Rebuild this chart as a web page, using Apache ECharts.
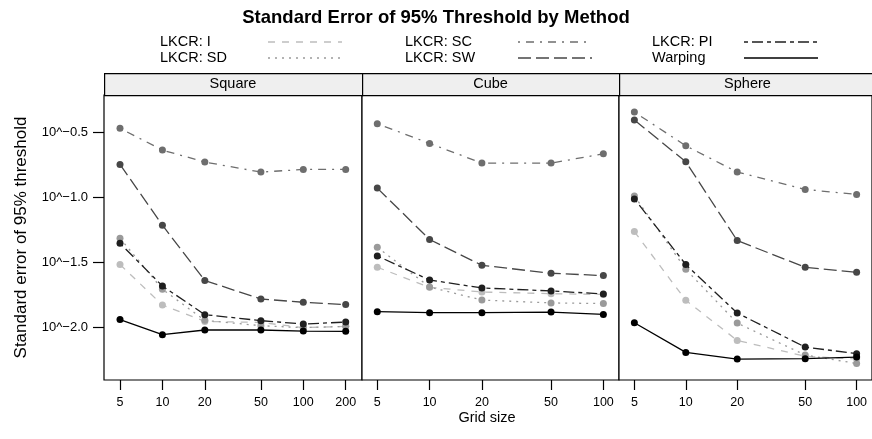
<!DOCTYPE html>
<html>
<head>
<meta charset="utf-8">
<script src="https://cdn.jsdelivr.net/npm/echarts@6/dist/echarts.min.js"></script>
<style>
html,body{margin:0;padding:0;background:#fff;}
#chart{width:872px;height:439px;}
</style>
</head>
<body>
<div id="chart"></div>
<script>
// ---- data (values are log10 of the standard error) ----
const panels = ['Square', 'Cube', 'Sphere'];
const methods = ['LKCR: I', 'LKCR: SD', 'LKCR: SC', 'LKCR: SW', 'LKCR: PI', 'Warping'];
const gridSizesSquare = [5, 10, 20, 50, 100, 200];
const gridSizesCube = [5, 10, 20, 50, 100];
const gridSizesSphere = [5, 10, 20, 50, 100];
const yTickExponents = [-2.0, -1.5, -1.0, -0.5];

const squareI    = [-1.515, -1.826, -1.952, -1.960, -2.000, -1.990];
const squareSD   = [-1.313, -1.705, -1.944, -1.985, -2.000, -1.990];
const squareSC   = [-0.469, -0.636, -0.728, -0.805, -0.785, -0.785];
const squareSW   = [-0.746, -1.213, -1.638, -1.780, -1.805, -1.823];
const squarePI   = [-1.352, -1.680, -1.900, -1.946, -1.972, -1.957];
const squareWarp = [-1.938, -2.054, -2.018, -2.018, -2.026, -2.028];

const cubeI    = [-1.536, -1.690, -1.726, -1.739, -1.745];
const cubeSD   = [-1.382, -1.688, -1.788, -1.810, -1.815];
const cubeSC   = [-0.434, -0.585, -0.736, -0.736, -0.665];
const cubeSW   = [-0.928, -1.323, -1.521, -1.582, -1.600];
const cubePI   = [-1.449, -1.634, -1.695, -1.718, -1.741];
const cubeWarp = [-1.877, -1.885, -1.885, -1.880, -1.898];

const sphereI    = [-1.262, -1.790, -2.098, -2.220, -2.240];
const sphereSD   = [-0.988, -1.552, -1.965, -2.210, -2.275];
const sphereSC   = [-0.344, -0.603, -0.805, -0.938, -0.977];
const sphereSW   = [-0.405, -0.726, -1.331, -1.536, -1.575];
const spherePI   = [-1.011, -1.515, -1.888, -2.149, -2.200];
const sphereWarp = [-1.962, -2.190, -2.241, -2.238, -2.226];

// ---- assembly ----
const panelSizes = [gridSizesSquare, gridSizesCube, gridSizesSphere];
const panelData = [
  [squareI, squareSD, squareSC, squareSW, squarePI, squareWarp],
  [cubeI, cubeSD, cubeSC, cubeSW, cubePI, cubeWarp],
  [sphereI, sphereSD, sphereSC, sphereSW, spherePI, sphereWarp]
];
const styles = [
  {color: '#bdbdbd', dash: [7, 7]},
  {color: '#9a9a9a', dash: [2, 5]},
  {color: '#6e6e6e', dash: [2, 6, 8, 6]},
  {color: '#474747', dash: [13, 5]},
  {color: '#1f1f1f', dash: [4, 4, 11, 4]},
  {color: '#000000', dash: 'solid'}
];
const FONT = '"Liberation Sans", Arial, Helvetica, sans-serif';
const gridBoxes = [
  {left: 104, width: 258},
  {left: 362, width: 257},
  {left: 619, width: 257}
];
const xRanges = [
  [0.5854, 2.4167],
  [0.611, 2.090],
  [0.609, 2.090]
];
const TOP = 95, HEIGHT = 285;
const YMIN = -2.402, YMAX = -0.213;

const grids = gridBoxes.map(g => ({
  left: g.left, width: g.width, top: TOP, height: HEIGHT,
  show: true, borderColor: '#000', borderWidth: 1.2, backgroundColor: '#fff'
}));

const xAxes = panelSizes.map((sizes, p) => {
  const vals = sizes.map(s => Math.log10(s));
  return {
    type: 'value', gridIndex: p, min: xRanges[p][0], max: xRanges[p][1],
    axisLine: {show: false},
    splitLine: {show: false},
    axisTick: {show: true, inside: false, length: 10, customValues: vals,
      lineStyle: {color: '#000', width: 1.2}},
    axisLabel: {show: true, customValues: vals, margin: 16, color: '#000',
      fontFamily: FONT, fontSize: 12.5,
      formatter: v => String(Math.round(Math.pow(10, v)))}
  };
});

const yAxes = panels.map((name, p) => ({
  type: 'value', gridIndex: p, min: YMIN, max: YMAX,
  axisLine: {show: false},
  splitLine: {show: false},
  axisTick: {show: p === 0, inside: false, length: 11, customValues: yTickExponents,
    lineStyle: {color: '#000', width: 1.2}},
  axisLabel: {show: p === 0, customValues: yTickExponents, margin: 16, color: '#000',
    fontFamily: FONT, fontSize: 13,
    formatter: v => '10^' + v.toFixed(1).replace('-', '\u2212')},
  name: p === 0 ? 'Standard error of 95% threshold' : '',
  nameLocation: 'middle', nameRotate: 90, nameGap: 74,
  nameTextStyle: {fontFamily: FONT, fontSize: 17, color: '#000'}
}));

const series = [];
panels.forEach((panel, p) => {
  methods.forEach((m, k) => {
    const sizes = panelSizes[p];
    series.push({
      type: 'line', name: m, xAxisIndex: p, yAxisIndex: p,
      data: sizes.map((s, i) => [Math.log10(s), panelData[p][k][i]]),
      symbol: 'circle', symbolSize: 7, showSymbol: true,
      lineStyle: {color: styles[k].color, width: 1.3, type: styles[k].dash},
      itemStyle: {color: styles[k].color},
      z: 2 + k, animation: false, silent: true
    });
  });
});

const graphic = [];
// strips
gridBoxes.forEach((g, p) => {
  graphic.push({
    type: 'rect', left: g.left, top: 73, z: 10,
    shape: {x: 0, y: 0, width: g.width, height: 22},
    style: {fill: '#efefef', stroke: '#000', lineWidth: 1.2}
  });
  graphic.push({
    type: 'text', x: g.left + g.width / 2, y: 84, z: 11,
    style: {text: panels[p], fontFamily: FONT, fontSize: 14.5, fill: '#000',
      align: 'center', verticalAlign: 'middle'}
  });
});
// legend (3 columns x 2 rows, column-major)
const legCols = [{tx: 160, lx: 268}, {tx: 405, lx: 518}, {tx: 652, lx: 744}];
const legRows = [42, 58];
methods.forEach((m, k) => {
  const c = legCols[Math.floor(k / 2)], r = legRows[k % 2];
  graphic.push({
    type: 'text', x: c.tx, y: r, z: 11,
    style: {text: m, fontFamily: FONT, fontSize: 14.5, fill: '#000',
      align: 'left', verticalAlign: 'middle'}
  });
  graphic.push({
    type: 'line', z: 11,
    shape: {x1: c.lx, y1: r, x2: c.lx + 74, y2: r},
    style: {stroke: styles[k].color, lineWidth: 1.3,
      lineDash: styles[k].dash === 'solid' ? null : styles[k].dash}
  });
});
graphic.push({
  type: 'text', x: 487, y: 418, z: 11,
  style: {text: 'Grid size', fontFamily: FONT, fontSize: 14.5, fill: '#000',
    align: 'center', verticalAlign: 'middle'}
});

const chart = echarts.init(document.getElementById('chart'), null, {renderer: 'canvas'});
chart.setOption({
  animation: false,
  backgroundColor: '#fff',
  title: {
    text: 'Standard Error of 95% Threshold by Method', left: 'center', top: 3,
    textStyle: {fontFamily: FONT, fontSize: 18.5, fontWeight: 'bold', color: '#000'}
  },
  grid: grids,
  xAxis: xAxes,
  yAxis: yAxes,
  series: series,
  graphic: graphic
});
</script>
</body>
</html>
